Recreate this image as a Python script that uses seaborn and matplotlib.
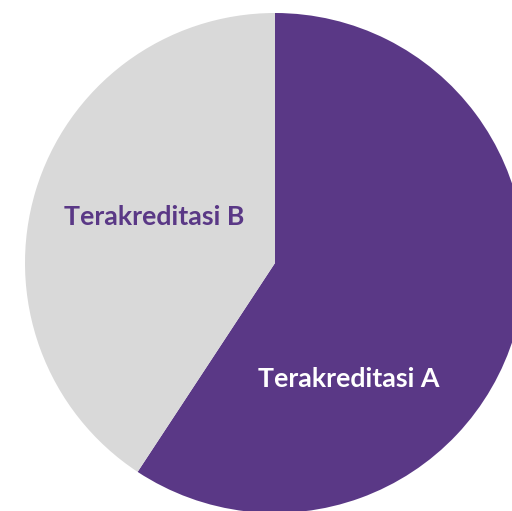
import matplotlib
matplotlib.use("Agg")
import matplotlib.pyplot as plt
import seaborn as sns

categories = ["Terakreditasi A", "Terakreditasi B"]
values = [16, 11]
colors = ["#5a3886", "#d9d9d9"]
label_colors = ["white", "#5a3886"]

sns.set_style("white")
plt.rcParams['font.family'] = ['Lato', 'DejaVu Sans']

fig = plt.figure(figsize=(5.12, 5.11), dpi=100)
ax = fig.add_axes([0, 0, 1, 1])
wedges, _ = ax.pie(values, colors=colors, startangle=90, counterclock=False,
                   radius=1.0, wedgeprops=dict(linewidth=0))
ax.set_aspect('auto')
ax.set_xlim(-1.1, 0.948)
ax.set_ylim(-0.992, 1.052)
ax.axis('off')

label_pos = [(0.296, -0.464), (-0.484, 0.184)]
for cat, (x, y), c in zip(categories, label_pos, label_colors):
    ax.text(x, y, cat, ha='center', va='center', color=c,
            fontsize=19.3, fontweight='bold')

fig.savefig("out.png", dpi=100)
